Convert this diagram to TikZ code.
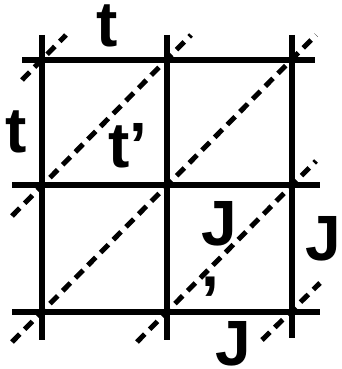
\documentclass[tikz,border=0pt]{standalone}
\usepackage{fontspec}
\setmainfont{Liberation Sans}
\begin{document}
\begin{tikzpicture}[x=1pt,y=-1pt,
  gridline/.style={line width=5.5pt},
  bondline/.style={line width=5pt,dash pattern=on 11pt off 7pt},
  lbl/.style={font=\fontsize{64}{64}\selectfont\bfseries,anchor=base,inner sep=0pt}]
\useasboundingbox (0,0) rectangle (342,369);
% grid endpoints
\coordinate (v1t) at (42,35);  \coordinate (v1b) at (42,340);
\coordinate (v2t) at (167,35); \coordinate (v2b) at (167,340);
\coordinate (v3t) at (292,35); \coordinate (v3b) at (292,338);
\coordinate (h1l) at (22,60);  \coordinate (h1r) at (315,60);
\coordinate (h2l) at (12,185); \coordinate (h2r) at (320,185);
\coordinate (h3l) at (12,312); \coordinate (h3r) at (320,312);
\draw[gridline] (v1t) -- (v1b);
\draw[gridline] (v2t) -- (v2b);
\draw[gridline] (v3t) -- (v3b);
\draw[gridline] (h1l) -- (h1r);
\draw[gridline] (h2l) -- (h2r);
\draw[gridline] (h3l) -- (h3r);
% diagonal dashed bonds
\coordinate (d1a) at (22,80);   \coordinate (d1b) at (66,35);
\coordinate (d2a) at (12,216);  \coordinate (d2b) at (191,35);
\coordinate (d3a) at (12,342);  \coordinate (d3b) at (316,35);
\coordinate (d4a) at (137,342); \coordinate (d4b) at (316,161);
\coordinate (d5a) at (262,340); \coordinate (d5b) at (320,283);
\draw[bondline] (d1a) -- (d1b);
\draw[bondline] (d2a) -- (d2b);
\draw[bondline] (d3a) -- (d3b);
\draw[bondline] (d4a) -- (d4b);
\draw[bondline] (d5a) -- (d5b);
% labels
\node[lbl] (ttop) at (107,47) {t};
\node[lbl] (tleft) at (16,152) {t};
\node[lbl] (tp) at (128,167) {t’};
\node[lbl] (jin) at (219,245) {J};
\node[lbl] (comma) at (210,286) {,};
\node[lbl] (jright) at (323,260) {J};
\node[lbl] (jbot) at (233,365) {J};
\end{tikzpicture}
\end{document}
